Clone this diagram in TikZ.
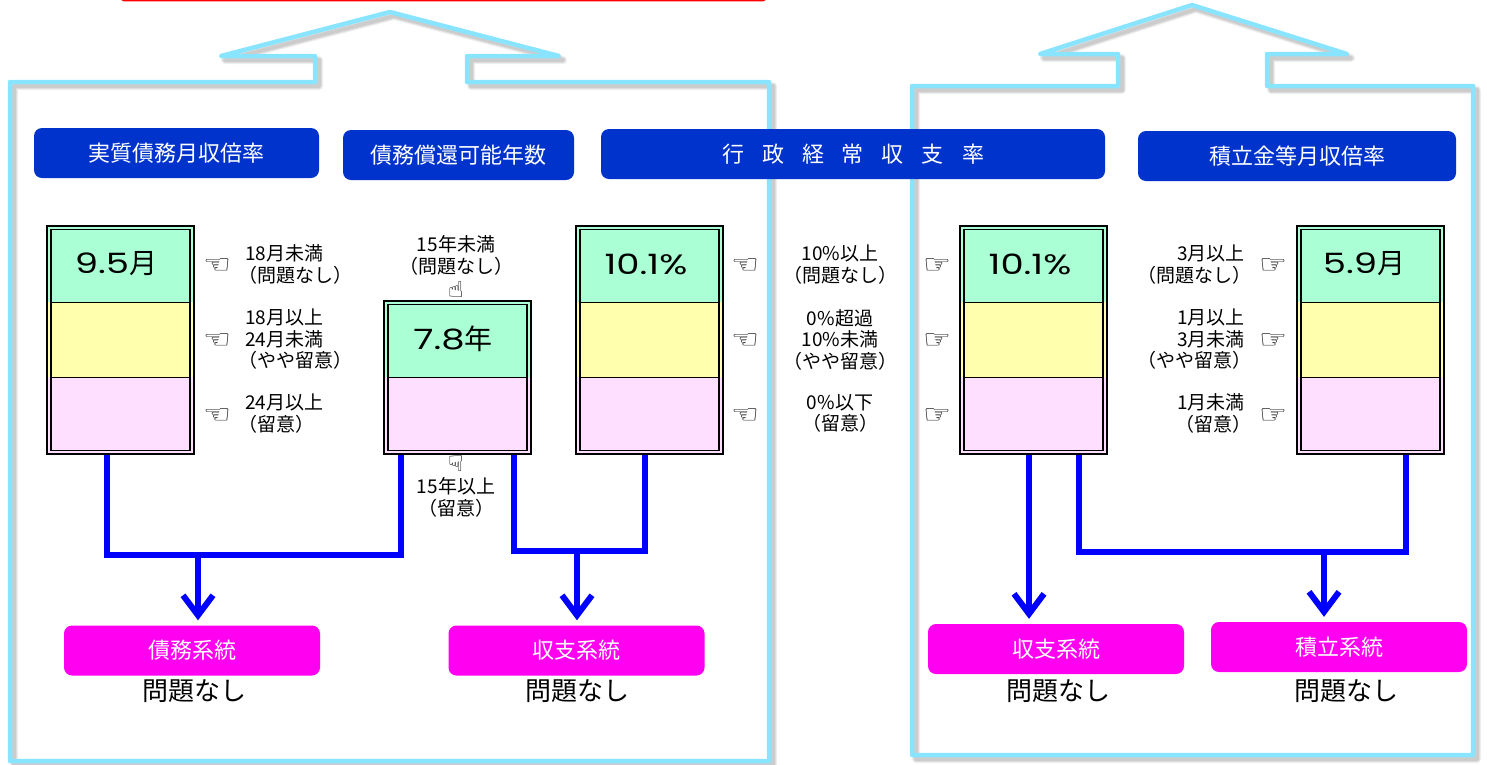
\documentclass[tikz,border=0pt]{standalone}
\usepackage{fontspec}
\setmainfont{Noto Sans CJK JP}
\newfontfamily\valuefont[FakeStretch=1.32]{Poppins}
\newfontfamily\valuecjk{Noto Sans CJK JP}
\newfontfamily\handfont[FakeStretch=1.2]{DejaVu Sans}
\usetikzlibrary{arrows.meta}
\definecolor{framecol}{HTML}{88E4FF}
\definecolor{titlecol}{HTML}{0033CC}
\definecolor{resultcol}{HTML}{FF00F0}
\definecolor{goodcol}{HTML}{AAFFD4}
\definecolor{midcol}{HTML}{FFFFAE}
\definecolor{badcol}{HTML}{FFDFFF}
\newcommand{\kakko}[1]{\kern-7pt（#1）\kern-7pt}
\newcommand{\unitcjk}[1]{{\valuecjk\fontsize{28}{28}\selectfont #1}}
\tikzset{
  framepath/.style={draw=framecol, line width=4.5pt, line join=round},
  titlebox/.style={fill=titlecol, rounded corners=8pt, text=white, inner sep=0pt, font=\fontsize{22}{26}\selectfont},
  resultbox/.style={fill=resultcol, rounded corners=8pt, text=white, inner sep=0pt, minimum width=256pt, minimum height=50pt, font=\fontsize{22}{26}\selectfont},
  gaugebox/.style={draw, line width=2pt, minimum width=147pt, minimum height=228pt, inner sep=0pt},
  valuetext/.style={font=\fontsize{28}{34}\selectfont\valuefont, inner sep=0pt},
  criteria/.style={font=\fontsize{19}{21.5}\selectfont, inner sep=0pt},
  handmark/.style={font=\fontsize{26}{26}\selectfont\handfont, inner sep=0pt},
  verdict/.style={font=\fontsize{26}{30}\selectfont, inner sep=0pt},
  flowline/.style={draw=blue, line width=6pt, line join=miter},
  flowarrow/.style={flowline, -{Straight Barb[length=20pt, width=30pt]}, shorten >=5pt},
}
\begin{document}
\begin{tikzpicture}[x=1pt, y=-1pt]
    \useasboundingbox (0,0) rectangle (1487,764);
    % define the two house outlines
    \def\housea{(10,82) -- (315,82) -- (315,56) -- (221,56) -- (390,12) -- (559,56) -- (467,56) -- (467,82) -- (769,82) -- (769,761) -- (10,761) -- cycle}
    \def\houseb{(912,86) -- (1118,86) -- (1118,54) -- (1040,54) -- (1192,5) -- (1347,54) -- (1267,54) -- (1267,86) -- (1473,86) -- (1473,755) -- (912,755) -- cycle}

    \draw[red, line width=2.5pt, rounded corners=2pt] (122,-5) -- (122,0) -- (765,0) -- (765,-5);

    % soft shadow, then the outline
    \foreach \w/\o in {8/0.12,6/0.15,4/0.2} {
      \begin{scope}[shift={(4,4)}]
        \draw[gray, line width=\w pt, line join=round, opacity=\o] \housea;
        \draw[gray, line width=\w pt, line join=round, opacity=\o] \houseb;
      \end{scope}
    }
    \draw[framepath] \housea;
    \draw[framepath] \houseb;

    % headings
    \node[titlebox, minimum width=285pt, minimum height=50pt] (titlea) at (176.5,153) {実質債務月収倍率};
    \node[titlebox, minimum width=231pt, minimum height=50pt] (titleb) at (458.5,155) {債務償還可能年数};
    \node[titlebox, minimum width=504pt, minimum height=50pt] (titlec) at (853,154) {\spaceskip=18pt\relax 行 政 経 常 収 支 率};
    \node[titlebox, minimum width=318pt, minimum height=50pt] (titled) at (1297,156) {積立金等月収倍率};

    % three band gauges
    \foreach \x in {46,575,959,1296} {
      \fill[goodcol] (\x,225) rectangle ++(148,77);
      \fill[midcol] (\x,302) rectangle ++(148,75);
      \fill[badcol] (\x,377) rectangle ++(148,78);
      \draw[line width=1pt] (\x+4,302) -- ++(140,0);
      \draw[line width=1pt] (\x+4,377) -- ++(140,0);
      \draw[line width=1.75pt] (\x+4.75,229.5) rectangle ++(139,221);
    }
    % two band gauge
    \fill[goodcol] (383,300) rectangle ++(148,77);
    \fill[badcol] (383,377) rectangle ++(148,78);
    \draw[line width=1pt] (387,377) -- ++(140,0);
    \draw[line width=1.75pt] (387.75,304.5) rectangle ++(139,146);

    \node[gaugebox] (gaugea) at (120.5,340) {};
    \node[gaugebox, minimum height=153pt] (gaugeb) at (457.5,377.5) {};
    \node[gaugebox] (gaugec) at (649.5,340) {};
    \node[gaugebox] (gauged) at (1033.5,340) {};
    \node[gaugebox] (gaugee) at (1370.5,340) {};

    \node[valuetext] (valuea) at (116,264) {9.5\unitcjk{月}};
    \node[valuetext] (valueb) at (453,339) {7.8\unitcjk{年}};
    \node[valuetext] (valuec) at (646,264) {10.1\%};
    \node[valuetext] (valued) at (1030,264) {10.1\%};
    \node[valuetext] (valuee) at (1364,264) {5.9\unitcjk{月}};

    % pointing hands
    \foreach \y/\n in {266/a,341/b,416/c} {
      \node[handmark] (handa\n) at (217,\y) {☜};
      \node[handmark] (handc\n) at (745,\y) {☜};
      \node[handmark] (handd\n) at (937,\y) {☞};
      \node[handmark] (hande\n) at (1273,\y) {☞};
    }
    \node[handmark, font=\fontsize{22}{22}\selectfont\handfont] (handup) at (456,290) {☝};
    \node[handmark, font=\fontsize{22}{22}\selectfont\handfont] (handdown) at (456,464) {☟};

    % criteria
    \node[criteria, anchor=west, align=left] (crita1) at (245,264.5) {18月未満\\\kakko{問題なし}};
    \node[criteria, anchor=west, align=left] (crita2) at (245,339.5) {18月以上\\24月未満\\\kakko{やや留意}};
    \node[criteria, anchor=west, align=left] (crita3) at (245,413.5) {24月以上\\\kakko{留意}};
    \node[criteria, align=center] (critb1) at (456,255.5) {15年未満\\\kakko{問題なし}};
    \node[criteria, align=center] (critb2) at (456,497.5) {15年以上\\\kakko{留意}};
    \node[criteria, align=center] (critc1) at (840,264.5) {10\%以上\\\kakko{問題なし}};
    \node[criteria, align=center] (critc2) at (840,339.5) {0\%超過\\10\%未満\\\kakko{やや留意}};
    \node[criteria, align=center] (critc3) at (840,413.5) {0\%以下\\\kakko{留意}};
    \node[criteria, anchor=east, align=right] (critd1) at (1245,264.5) {3月以上\\\kakko{問題なし}};
    \node[criteria, anchor=east, align=right] (critd2) at (1245,339.5) {1月以上\\3月未満\\\kakko{やや留意}};
    \node[criteria, anchor=east, align=right] (critd3) at (1245,413.5) {1月未満\\\kakko{留意}};

    % results
    \node[resultbox] (resulta) at (192,650.5) {債務系統};
    \node[resultbox] (resultb) at (576.5,650.5) {収支系統};
    \node[resultbox] (resultc) at (1056,649) {収支系統};
    \node[resultbox] (resultd) at (1339,647) {積立系統};
    \node[verdict] (verdicta) at (194,691) {問題なし};
    \node[verdict] (verdictb) at (577,691) {問題なし};
    \node[verdict] (verdictc) at (1058,691) {問題なし};
    \node[verdict] (verdictd) at (1346,691) {問題なし};

    % connectors
    \coordinate (startb) at (401,455);
    \coordinate (startc) at (514,455);
    \coordinate (joina) at (198,555);
    \coordinate (joinb) at (577,551);
    \coordinate (joind) at (1324,552);
    \draw[flowline] (gaugea.south -| 107,0) -- (107,555) -- (401,555) -- (startb);
    \draw[flowline] (startc) -- (514,551) -- (645,551) -- (gaugec.south -| 645,0);
    \draw[flowline] (gauged.south -| 1079,0) -- (1079,552) -- (1406,552) -- (gaugee.south -| 1406,0);
    \draw[flowarrow] (joina) -- (joina |- resulta.north);
    \draw[flowarrow] (joinb) -- (joinb |- resultb.north);
    \draw[flowarrow] (gauged.south -| 1029,0) -- (resultc.north -| 1029,0);
    \draw[flowarrow] (joind) -- (joind |- resultd.north);
  \end{tikzpicture}
\end{document}
